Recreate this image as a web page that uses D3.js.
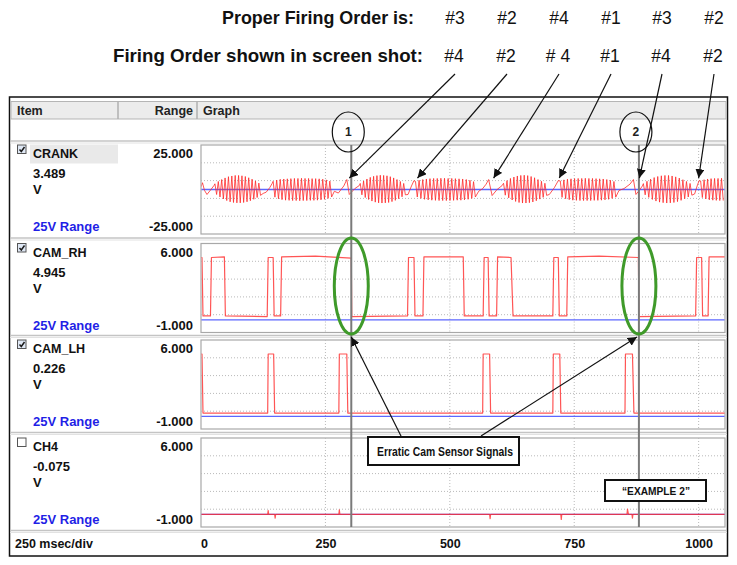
<!DOCTYPE html>
<html><head><meta charset="utf-8">
<script src="https://cdn.jsdelivr.net/npm/d3@7/dist/d3.min.js"></script>
<style>
body{margin:0;background:#fff}
svg{display:block}
text{font-family:"Liberation Sans",Arial,Helvetica,sans-serif}
</style>
</head><body>
<svg id="chart" width="737" height="565"></svg>
<script>
// ---------------- DATA ----------------
const properOrder = ["#3", "#2", "#4", "#1", "#3", "#2"];
const shownOrder  = ["#4", "#2", "# 4", "#1", "#4", "#2"];
// times (ms) of the crank events the arrows point at
const arrowTimes = [298, 435, 588, 720, 881, 1000];
const cursorTimes = [302, 880];
const cursorLabels = ["1", "2"];

const xTicks = [0, 250, 500, 750, 1000];
const xMax = 1053;

const channelNames    = ["CRANK", "CAM_RH", "CAM_LH", "CH4"];
const channelReadings = ["3.489", "4.945", "0.226", "-0.075"];
const channelUnits    = ["V", "V", "V", "V"];
const channelRangeTxt = ["25V Range", "25V Range", "25V Range", "25V Range"];
const rangeMax = [25, 6, 6, 6];
const rangeMin = [-25, -1, -1, -1];
const rangeMaxTxt = ["25.000", "6.000", "6.000", "6.000"];
const rangeMinTxt = ["-25.000", "-1.000", "-1.000", "-1.000"];
const channelChecked = [true, true, true, false];

// crank: ramp / sync segments between tooth bursts  [ms, V]
const crankGaps = [
  [[0,1.5],[3,3.8],[7,-0.5],[12,-2.8],[20,0],[26,2.2]],
  [[125,-2.2],[131,-1.5],[138,1],[143,3.4]],
  [[268,-1],[276,-2],[287,2],[293,5.6],[298,-2.8],[309,0.5],[318,2.2]],
  [[416,-2.8],[423,2],[428,5]],
  [[558,-1],[566,0.5],[573,3],[578,5.6],[585,-3.4],[595,0],[605,2.2]],
  [[700,-2.8],[710,1],[718,5]],
  [[840,-0.5],[850,0.5],[862,3],[869,5.6],[874,-2.8],[882,0],[887,2]],
  [[992,-2.5],[997,2],[1001,5]]
];
// crank tooth bursts: start ms, end ms
const crankBurstStart = [28, 145, 320, 431, 608, 722, 889, 1004];
const crankBurstEnd   = [123, 266, 414, 555, 698, 837, 990, 1053];
// peak (top) and trough (bottom) of every tooth, V
const crankTops = [
  [3.2,4.5,5.6,6.5,7.2,7.6,7.9,7.9,7.7,7.3,6.6,5.8,4.8,3.6],
  [4.6,5.3,5.7,5.9,6.0,6.1,6.2,6.2,6.3,6.2,6.2,6.1,6.1,6.0,5.8,5.4,4.7],
  [3.4,4.8,5.9,6.8,7.4,7.8,8.0,7.9,7.7,7.2,6.5,5.6,4.5,3.4],
  [4.5,5.2,5.6,5.9,6.1,6.2,6.2,6.3,6.3,6.2,6.2,6.1,6.0,5.9,5.6,5.2,4.4],
  [3.5,5.0,6.2,7.0,7.6,7.9,8.0,7.8,7.3,6.6,5.6,4.6,3.5],
  [4.8,5.4,5.8,6.0,6.1,6.2,6.2,6.3,6.2,6.2,6.1,6.0,5.9,5.6,5.2,4.5],
  [3.3,4.6,5.8,6.7,7.3,7.7,7.9,7.9,7.6,7.1,6.4,5.5,4.5,3.4],
  [4.8,5.5,5.9,6.1,6.2,6.2,6.3]
];
const crankBottoms = [
  [-2.8,-4.2,-5.3,-6.2,-6.9,-7.3,-7.5,-7.5,-7.3,-6.9,-6.3,-5.5,-4.5,-3.3],
  [-4.3,-5.2,-5.7,-6.0,-6.1,-6.2,-6.2,-6.3,-6.2,-6.2,-6.1,-6.1,-6.0,-5.8,-5.5,-5.0,-4.2],
  [-3.0,-4.5,-5.6,-6.5,-7.1,-7.5,-7.6,-7.5,-7.3,-6.8,-6.1,-5.2,-4.1,-3.0],
  [-4.2,-5.0,-5.5,-5.8,-6.0,-6.1,-6.2,-6.2,-6.2,-6.2,-6.1,-6.0,-6.0,-5.8,-5.5,-5.0,-4.2],
  [-3.2,-4.7,-5.9,-6.7,-7.3,-7.6,-7.6,-7.4,-7.0,-6.3,-5.4,-4.4,-3.3],
  [-4.4,-5.2,-5.7,-6.0,-6.1,-6.2,-6.2,-6.2,-6.2,-6.1,-6.1,-6.0,-5.8,-5.5,-5.0,-4.3],
  [-3.0,-4.4,-5.6,-6.5,-7.1,-7.4,-7.6,-7.5,-7.3,-6.8,-6.1,-5.2,-4.2,-3.2],
  [-4.5,-5.3,-5.8,-6.0,-6.1,-6.2,-6.2]
];
// cam sensors [ms, V]
const camRH = [[0,4.9],[2,4.9],[4,0.3],[19,0.3],[21,4.9],[47,4.95],[49,0.3],[133,0.25],[135,4.9],[145,4.9],[147,0.3],
  [160,0.3],[162,4.95],[230,5.0],[302,4.85],[303,0.25],[415,0.3],[417,4.9],[428,4.9],[430,0.3],[446,0.3],[448,4.95],
  [527,4.95],[529,0.3],[567,0.3],[569,4.9],[577,4.9],[579,0.3],[594,0.3],[596,4.95],[623,4.9],[627,0.3],[707,0.3],
  [709,4.9],[718,4.9],[720,0.3],[735,0.3],[737,4.95],[800,5.0],[879,4.9],[880,0.25],[994,0.3],[996,4.9],[1006,4.9],
  [1008,0.3],[1019,0.3],[1021,4.95],[1053,4.95]];
const camLH = [[0,4.9],[2,4.9],[4,0.25],[134,0.25],[135,4.9],[146,4.9],[148,0.25],[277,0.25],[278,4.9],[293,4.9],
  [295,0.25],[566,0.25],[567,4.9],[580,4.9],[582,0.25],[707,0.25],[708,4.9],[721,4.9],[723,0.25],[852,0.25],[853,4.9],
  [867,4.9],[870,0.25],[1053,0.25]];
const ch4 = [[0,0],[134,0],[135,0.3],[136,0],[148,0],[149,-0.3],[150,0],[277,0],[278,0.35],[279,0],[580,0],[581,-0.35],
  [582,0],[723,0],[724,-0.4],[725,0],[856,0],[857,0.4],[859,0],[866,0],[867,-0.3],[868,0],[1053,0]];
const channelSignals = [null, camRH, camLH, ch4];

// ---------------- LAYOUT ----------------
const svg = d3.select("#chart");
const plotL = 201, plotR = 725, plotH = 89;
const plotTops = [145, 243.5, 340, 438];
const red = "#ff2a2a", blue = "#3f4cff";

const x = d3.scaleLinear().domain([0, xMax]).range([plotL, plotR]);
const yScales = plotTops.map((t, i) => d3.scaleLinear().domain([rangeMin[i], rangeMax[i]]).range([t + plotH, t]));

const defs = svg.append("defs");
defs.append("marker").attr("id", "ah").attr("viewBox", "0 0 10 10").attr("refX", 10).attr("refY", 5)
  .attr("markerWidth", 9).attr("markerHeight", 9).attr("markerUnits", "userSpaceOnUse").attr("orient", "auto")
  .append("path").attr("d", "M0,0 L10,5 L0,10 z").attr("fill", "#111");

// title rows
svg.append("text").attr("x", 222).attr("y", 24).attr("font-size", 18)
  .attr("textLength", 192).attr("lengthAdjust", "spacingAndGlyphs")
  .attr("font-weight", "bold").attr("fill", "#111").text("Proper Firing Order is:");
svg.append("text").attr("x", 113).attr("y", 62).attr("font-size", 18)
  .attr("textLength", 310).attr("lengthAdjust", "spacingAndGlyphs")
  .attr("font-weight", "bold").attr("fill", "#111").text("Firing Order shown in screen shot:");
const labelX = [455, 507, 559, 611, 662, 714];
svg.selectAll(".po").data(properOrder).enter().append("text").attr("x", (d, i) => labelX[i]).attr("y", 24)
  .attr("text-anchor", "middle").attr("font-size", 17.5).attr("fill", "#111").text(d => d);
svg.selectAll(".so").data(shownOrder).enter().append("text").attr("x", (d, i) => labelX[i] - 1).attr("y", 62)
  .attr("text-anchor", "middle").attr("font-size", 17.5).attr("fill", "#111").text(d => d);

// outer frame & table
svg.append("rect").attr("x", 9.5).attr("y", 97).attr("width", 718).attr("height", 459)
  .attr("fill", "#fff").attr("stroke", "#111").attr("stroke-width", 1.5);
svg.append("rect").attr("x", 11).attr("y", 101.5).attr("width", 715).attr("height", 17.5)
  .attr("fill", "#ececec").attr("stroke", "#b5b5b5");
[118, 197].forEach(cx => svg.append("line").attr("x1", cx).attr("x2", cx).attr("y1", 101.5).attr("y2", 119)
  .attr("stroke", "#b0b0b0").attr("stroke-width", 1.5));
svg.append("text").attr("x", 17).attr("y", 115).attr("font-size", 12.5).attr("font-weight", "bold").attr("fill", "#222").text("Item");
svg.append("text").attr("x", 193).attr("y", 115).attr("text-anchor", "end").attr("font-size", 12.5).attr("font-weight", "bold").attr("fill", "#222").text("Range");
svg.append("text").attr("x", 203).attr("y", 115).attr("font-size", 12.5).attr("font-weight", "bold").attr("fill", "#222").text("Graph");

// row separators
const sepYs = [141, 238, 335.5, 432.5, 530.5];
sepYs.forEach(sy => {
  svg.append("line").attr("x1", 10).attr("x2", 727).attr("y1", sy).attr("y2", sy).attr("stroke", "#c4c4c4").attr("stroke-width", 1.5);
  svg.append("line").attr("x1", 10).attr("x2", 727).attr("y1", sy + 2).attr("y2", sy + 2).attr("stroke", "#e2e2e2").attr("stroke-width", 1);
});

const line = d3.line();

channelNames.forEach((name, i) => {
  const top = plotTops[i], y = yScales[i];
  const g = svg.append("g");
  // plot box
  g.append("rect").attr("x", plotL).attr("y", top).attr("width", plotR - plotL).attr("height", plotH)
    .attr("fill", "#fff").attr("stroke", "#a8a8a8").attr("stroke-width", 1.2);
  // grid
  xTicks.filter(t => t > 0).forEach(t => g.append("line").attr("x1", x(t)).attr("x2", x(t)).attr("y1", top).attr("y2", top + plotH)
    .attr("stroke", "#b9b9b9").attr("stroke-dasharray", "1,2"));
  [1, 2, 3, 4].forEach(k => g.append("line").attr("x1", plotL).attr("x2", plotR)
    .attr("y1", top + plotH * k / 5).attr("y2", top + plotH * k / 5).attr("stroke", "#b9b9b9").attr("stroke-dasharray", "1,2"));

  // labels column
  if (i === 0) g.append("rect").attr("x", 30).attr("y", top - 0.5).attr("width", 88).attr("height", 19).attr("fill", "#e9e9e9");
  g.append("rect").attr("x", 17.5).attr("y", top).attr("width", 8.5).attr("height", 8.5)
    .attr("fill", channelChecked[i] ? "#dfe8f5" : "#fff").attr("stroke", "#555").attr("stroke-width", 1);
  if (channelChecked[i]) g.append("path").attr("d", `M19.5,${top + 4.5} L21.3,${top + 6.5} L24.5,${top + 2}`)
    .attr("fill", "none").attr("stroke", "#1a1a1a").attr("stroke-width", 1.5);
  g.append("text").attr("x", 33).attr("y", top + 13).attr("font-size", 12.5).attr("font-weight", "bold").attr("fill", "#111").text(name);
  g.append("text").attr("x", 33).attr("y", top + 33).attr("font-size", 13).attr("font-weight", "bold").attr("fill", "#111").text(channelReadings[i]);
  g.append("text").attr("x", 33).attr("y", top + 49).attr("font-size", 13).attr("font-weight", "bold").attr("fill", "#111").text(channelUnits[i]);
  g.append("text").attr("x", 33).attr("y", top + 86).attr("font-size", 13).attr("font-weight", "bold").attr("fill", "#1f1fe6").text(channelRangeTxt[i]);
  g.append("text").attr("x", 193).attr("y", top + 13).attr("text-anchor", "end").attr("font-size", 13).attr("font-weight", "bold").attr("fill", "#111").text(rangeMaxTxt[i]);
  g.append("text").attr("x", 193).attr("y", top + 86).attr("text-anchor", "end").attr("font-size", 13).attr("font-weight", "bold").attr("fill", "#111").text(rangeMinTxt[i]);

  // clip
  const cid = "clip" + i;
  defs.append("clipPath").attr("id", cid).append("rect").attr("x", plotL + 0.5).attr("y", top + 0.5).attr("width", plotR - plotL - 1).attr("height", plotH - 1);
  const pg = g.append("g").attr("clip-path", `url(#${cid})`);
  line.x(d => x(d[0])).y(d => y(d[1]));

  // zero line
  pg.append("path").datum([[0, 0], [xMax, 0]]).attr("d", line).attr("stroke", blue).attr("stroke-width", 1.3).attr("fill", "none").attr("opacity", 0.85);

  let pts;
  if (i === 0) {
    pts = [];
    crankGaps.forEach((gap, b) => {
      gap.forEach(p => pts.push(p));
      const n = crankTops[b].length, step = (crankBurstEnd[b] - crankBurstStart[b]) / n;
      crankTops[b].forEach((v, j) => {
        const t = crankBurstStart[b] + j * step;
        pts.push([t, v]);
        pts.push([t + step * 0.5, crankBottoms[b][Math.min(j, crankBottoms[b].length - 1)]]);
      });
    });
  } else pts = channelSignals[i];
  pg.append("path").datum(pts).attr("d", line).attr("stroke", red).attr("stroke-width", i === 0 ? 1 : 1.2)
    .attr("fill", "none").attr("opacity", 0.8).attr("stroke-linejoin", "round");
});

// x axis
const axis = d3.axisBottom(x).tickValues(xTicks).tickSize(0).tickPadding(0).tickFormat(d3.format("d"));
const ax = svg.append("g").attr("transform", "translate(0,548)").call(axis);
ax.select(".domain").remove();
ax.selectAll("text").attr("y", 0).attr("dy", 0).attr("font-size", 12.5).attr("font-weight", "bold")
  .attr("fill", "#111").attr("font-family", "Liberation Sans, Arial, sans-serif");
ax.selectAll(".tick").filter(d => d === 0).select("text").attr("x", 3);
svg.append("text").attr("x", 15).attr("y", 548).attr("font-size", 12.5).attr("font-weight", "bold").attr("fill", "#111").text("250 msec/div");

// cursors
cursorTimes.forEach((t, k) => {
  svg.append("line").attr("x1", x(t)).attr("x2", x(t)).attr("y1", plotTops[0]).attr("y2", plotTops[3] + plotH)
    .attr("stroke", "#7a7a7a").attr("stroke-width", 2);
  svg.append("ellipse").attr("cx", x(t) - 3).attr("cy", 132).attr("rx", 16).attr("ry", 20)
    .attr("fill", "none").attr("stroke", "#111").attr("stroke-width", 1.2);
  svg.append("text").attr("x", x(t) - 3).attr("y", 136).attr("text-anchor", "middle").attr("font-size", 12)
    .attr("font-weight", "bold").attr("fill", "#222").text(cursorLabels[k]);
  svg.append("ellipse").attr("cx", x(t)).attr("cy", 286).attr("rx", 17).attr("ry", 48)
    .attr("fill", "none").attr("stroke", "#3f9a2a").attr("stroke-width", 3);
});

// firing order arrows
const tipV = 6.4;
arrowTimes.forEach((t, k) => {
  svg.append("line").attr("x1", labelX[k]).attr("y1", 74).attr("x2", x(t)).attr("y2", yScales[0](tipV))
    .attr("stroke", "#111").attr("stroke-width", 1.2).attr("marker-end", "url(#ah)");
});

// callout box
svg.append("rect").attr("x", 368).attr("y", 437).attr("width", 151).attr("height", 28)
  .attr("fill", "#fff").attr("stroke", "#111").attr("stroke-width", 2);
svg.append("text").attr("x", 377).attr("y", 456).attr("font-size", 12.5).attr("font-weight", "bold")
  .attr("font-family", "Liberation Sans Narrow, Liberation Sans, Arial, sans-serif")
  .attr("textLength", 136).attr("lengthAdjust", "spacingAndGlyphs").attr("fill", "#111").text("Erratic Cam Sensor Signals");
const calloutStarts = [[401, 436], [481, 436]];
cursorTimes.forEach((t, k) => {
  svg.append("line").attr("x1", calloutStarts[k][0]).attr("y1", calloutStarts[k][1]).attr("x2", x(t) - (k ? 2 : 0)).attr("y2", 337)
    .attr("stroke", "#111").attr("stroke-width", 1.2).attr("marker-end", "url(#ah)");
});

svg.append("rect").attr("x", 605).attr("y", 480).attr("width", 101).attr("height", 21)
  .attr("fill", "#fff").attr("stroke", "#111").attr("stroke-width", 2);
svg.append("text").attr("x", 622).attr("y", 495).attr("font-size", 11.5).attr("font-weight", "bold")
  .attr("font-family", "Liberation Sans Narrow, Liberation Sans, Arial, sans-serif")
  .attr("textLength", 68).attr("lengthAdjust", "spacingAndGlyphs").attr("fill", "#111").text("\u201CEXAMPLE 2\u201D");
</script>
</body></html>
